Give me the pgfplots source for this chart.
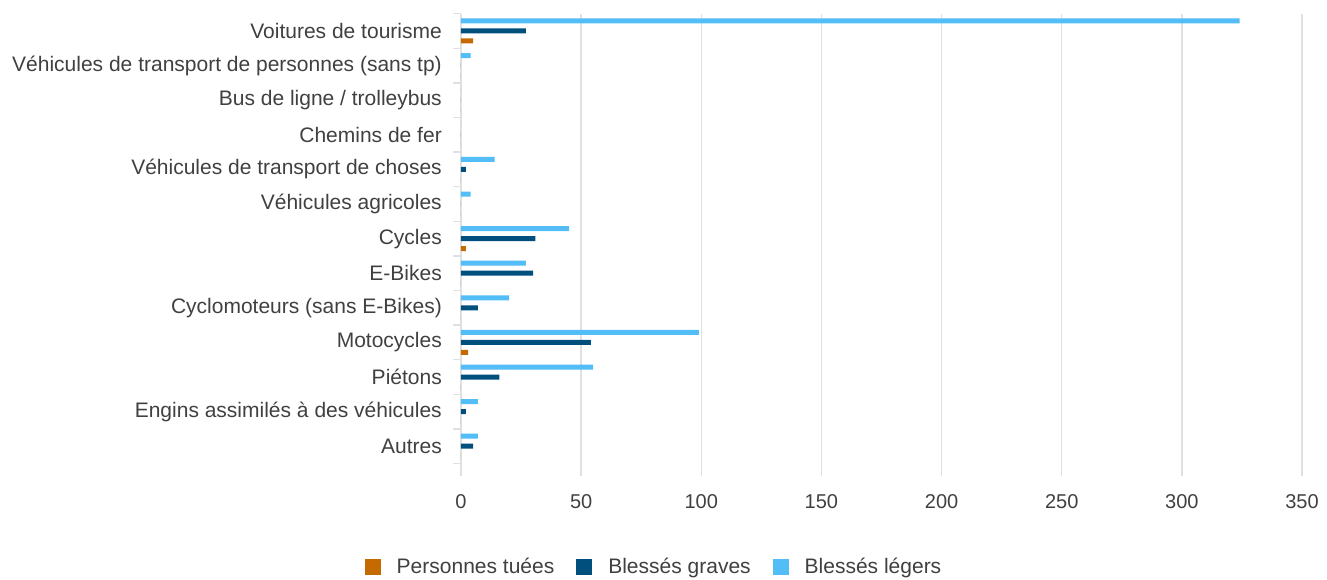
\documentclass[border=0pt]{standalone}
\usepackage{pgfplots}
\pgfplotsset{compat=1.18}
\usepackage{fontspec}
\setmainfont{Liberation Sans}
\definecolor{tuees}{HTML}{C46A00}
\definecolor{graves}{HTML}{004F7C}
\definecolor{legers}{HTML}{52BDF6}
\definecolor{txt}{HTML}{404040}
\definecolor{gridc}{HTML}{E0E0E0}

\begin{document}
\fontsize{21}{25}\selectfont
\begin{tikzpicture}
\path[use as bounding box] (-461pt,-115.5pt) rectangle (866pt,463.5pt);
\begin{axis}[
  at={(0pt,0pt)}, anchor=south west,
  scale only axis, width=841pt, height=449.8pt,
  xbar, bar width=5pt,
  xmin=0, xmax=350, ymin=-0.5, ymax=12.5,
  xtick={0,50,...,350},
  ytick={0,...,12},
  yticklabels={Autres, Engins assimilés à des véhicules, Piétons, Motocycles,
    Cyclomoteurs (sans E-Bikes), E-Bikes, Cycles, Véhicules agricoles,
    Véhicules de transport de choses, Chemins de fer, Bus de ligne / trolleybus,
    Véhicules de transport de personnes (sans tp), Voitures de tourisme},
  minor ytick={-0.5,0.5,...,12.5},
  axis line style={draw=none},
  tick pos=left,
  xmajorgrids,
  major grid style={gridc, line width=1.5pt},
  tick align=outside,
  major tick length=12pt,
  minor tick length=8pt,
  major x tick style={gridc, line width=1.5pt},
  major y tick style={draw=none},
  minor y tick style={gridc, line width=1.5pt},
  yticklabel style={text=txt, font=\fontsize{21}{25}\selectfont},
  xticklabel style={text=txt, font=\fontsize{20}{24}\selectfont, yshift=-12pt},
  /pgf/number format/assume math mode=true,
  legend style={at={(0.2295,-0.23)}, anchor=center, draw=none,
    legend columns=-1, text=txt, font=\fontsize{21}{25}\selectfont,
    /tikz/every odd column/.append style={column sep=14pt},
    /tikz/every even column/.append style={column sep=20pt}},
  legend image code/.code={\fill[#1,draw=none] (0pt,-8pt) rectangle (16pt,8pt);},
]
\addplot[fill=tuees, draw=none, bar shift=-10pt] coordinates {
  (5,12) (0,11) (0,10) (0,9) (0,8) (0,7) (2,6) (0,5) (0,4) (3,3) (0,2) (0,1) (0,0)};
\addplot[fill=graves, draw=none, bar shift=0pt] coordinates {
  (27,12) (0,11) (0,10) (0,9) (2,8) (0,7) (31,6) (30,5) (7,4) (54,3) (16,2) (2,1) (5,0)};
\addplot[fill=legers, draw=none, bar shift=10pt] coordinates {
  (324,12) (4,11) (0,10) (0,9) (14,8) (4,7) (45,6) (27,5) (20,4) (99,3) (55,2) (7,1) (7,0)};
\legend{Personnes tuées, Blessés graves, Blessés légers}
\end{axis}
\end{tikzpicture}
\end{document}
